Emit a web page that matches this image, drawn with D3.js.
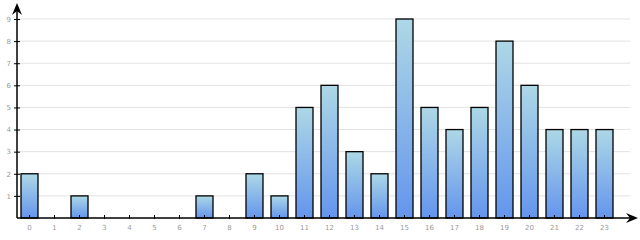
<!DOCTYPE html>
<html><head><meta charset="utf-8">
<script src="https://cdn.jsdelivr.net/npm/d3@7"></script>
<style>body{margin:0;background:#fff}svg{display:block}</style>
</head><body>
<script>
const categories = ["0","1","2","3","4","5","6","7","8","9","10","11","12","13","14","15","16","17","18","19","20","21","22","23"];
const values = [2,0,1,0,0,0,0,1,0,2,1,5,6,3,2,9,5,4,5,8,6,4,4,4];
const yTicks = [1,2,3,4,5,6,7,8,9];

const W = 640, H = 240;
const x0 = 17, y0 = 218;
const svg = d3.select("body").append("svg").attr("width", W).attr("height", H);
const defs = svg.append("defs");
const g = defs.append("linearGradient").attr("id","bg").attr("x1",0).attr("y1",0).attr("x2",0).attr("y2",1);
g.append("stop").attr("offset","0%").attr("stop-color","#add8e6");
g.append("stop").attr("offset","100%").attr("stop-color","#6495ed");

const x = d3.scaleBand().domain(categories).range([x0, 617]).paddingInner(0.32).paddingOuter(0.16);
const y = d3.scaleLinear().domain([0, 9]).range([y0, 19]);

// grid
svg.append("g").selectAll("line").data(yTicks).join("line")
  .attr("x1", x0).attr("x2", 630).attr("y1", d => y(d)).attr("y2", d => y(d))
  .attr("stroke", "#e2e2e2").attr("stroke-width", 1);

// bars
svg.append("g").selectAll("rect").data(values.map((v,i)=>({c:categories[i],v})).filter(d=>d.v>0)).join("rect")
  .attr("x", d => x(d.c)).attr("width", x.bandwidth())
  .attr("y", d => y(d.v)).attr("height", d => y0 - y(d.v))
  .attr("fill", "url(#bg)").attr("stroke", "#000").attr("stroke-width", 1.3);

// y axis
const yAxis = d3.axisLeft(y).tickValues(yTicks).tickSize(3).tickPadding(3).tickFormat(d3.format("d"));
const ya = svg.append("g").attr("transform", `translate(${x0},0)`).call(yAxis);
ya.select(".domain").remove();
ya.selectAll(".tick line").attr("x2", 3).attr("x1",-3).attr("stroke","#000");
ya.selectAll("text").attr("fill","#999").style("font-family","DejaVu Sans").style("font-size","7px");

// x axis
const xAxis = d3.axisBottom(x).tickSize(3).tickPadding(4);
const xa = svg.append("g").attr("transform", `translate(0,${y0})`).call(xAxis);
xa.select(".domain").remove();
xa.selectAll(".tick line").attr("y1",-3).attr("y2",1).attr("stroke","#000");
xa.selectAll("text").attr("fill","#999").style("font-family","DejaVu Sans").style("font-size","7px");

// axis lines
svg.append("line").attr("x1", x0).attr("x2", x0).attr("y1", 6).attr("y2", y0).attr("stroke","#000").attr("stroke-width",1.5);
svg.append("line").attr("x1", x0).attr("x2", 632).attr("y1", y0).attr("y2", y0).attr("stroke","#000").attr("stroke-width",1.5);
// arrows
svg.append("path").attr("d", `M${x0},3 L${x0-5},15 L${x0},11 L${x0+5},15 Z`).attr("fill","#000");
svg.append("path").attr("d", `M638,${y0} L626,${y0-5} L630,${y0} L626,${y0+5} Z`).attr("fill","#000");
</script>
</body></html>
